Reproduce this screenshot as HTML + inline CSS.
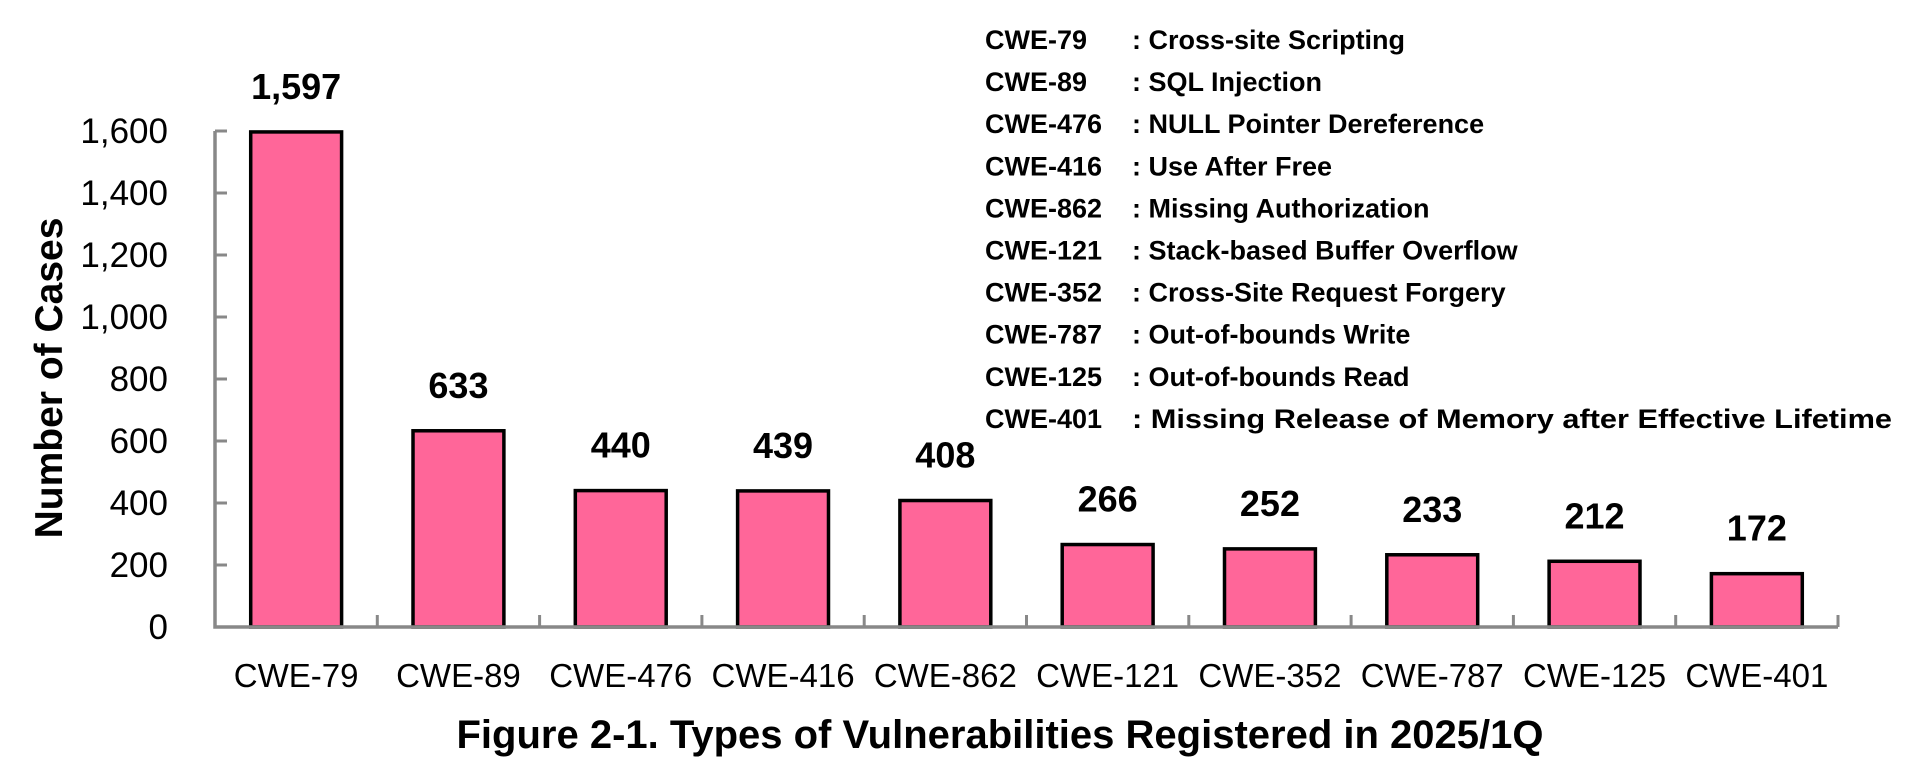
<!DOCTYPE html>
<html><head><meta charset="utf-8"><style>
body{margin:0;background:#fff;}
svg{display:block;font-family:"Liberation Sans",sans-serif;}
</style></head><body>
<svg id="chart" width="1912" height="773" viewBox="0 0 1912 773" xmlns="http://www.w3.org/2000/svg">
<g id="legend"></g>
<g id="plot"></g>
<text transform="translate(62,378) rotate(-90)" text-anchor="middle" font-size="39" font-weight="bold">Number of Cases</text>
<text x="1000" y="748" text-anchor="middle" font-size="40" font-weight="bold">Figure 2-1. Types of Vulnerabilities Registered in 2025/1Q</text>
</svg>
<script>
const categories = ["CWE-79","CWE-89","CWE-476","CWE-416","CWE-862","CWE-121","CWE-352","CWE-787","CWE-125","CWE-401"];
const values = [1597,633,440,439,408,266,252,233,212,172];
const valueLabels = ["1,597","633","440","439","408","266","252","233","212","172"];
const yTicks = [0,200,400,600,800,1000,1200,1400,1600];
const yTickLabels = ["0","200","400","600","800","1,000","1,200","1,400","1,600"];
const legendCodes = ["CWE-79","CWE-89","CWE-476","CWE-416","CWE-862","CWE-121","CWE-352","CWE-787","CWE-125","CWE-401"];
const legendNames = ["Cross-site Scripting","SQL Injection","NULL Pointer Dereference","Use After Free","Missing Authorization","Stack-based Buffer Overflow","Cross-Site Request Forgery","Out-of-bounds Write","Out-of-bounds Read","Missing Release of Memory after Effective Lifetime"];

const NS="http://www.w3.org/2000/svg";
const x0=215,x1=1838,y0=627,yTop=131,yMax=1600;
const bw=(x1-x0)/categories.length;
const Y=v=>y0-(v/yMax)*(y0-yTop);
const plot=document.getElementById('plot');
function mk(tag,attrs,parent,text){const e=document.createElementNS(NS,tag);for(const k in attrs)e.setAttribute(k,attrs[k]);if(text!==undefined)e.textContent=text;parent.appendChild(e);return e;}

categories.forEach((c,i)=>{
  const cx=x0+bw*(i+0.5), w=bw*0.56;
  const r=mk('rect',{x:cx-w/2,y:Y(values[i]),width:w,height:y0-Y(values[i]),fill:'#FF6699',stroke:'#000','stroke-width':3.5},plot);
  
  
  const t=mk('text',{x:cx,y:Y(values[i])-33,'text-anchor':'middle','font-size':36,'font-weight':'bold'},plot,valueLabels[i]);
  
  
  const xl=mk('text',{x:cx,y:687,'text-anchor':'middle','font-size':33},plot,c);
  
  
});
const ax=mk('path',{d:`M${x0},${yTop} V${y0} H${x1}`,fill:'none',stroke:'#888','stroke-width':3.5},plot);


for(let i=1;i<=categories.length;i++){
  const tx=x0+bw*i;
  const tk=mk('line',{x1:tx,x2:tx,y1:y0,y2:y0-12,stroke:'#888','stroke-width':3},plot);
  
  
}
yTicks.forEach((v,i)=>{
  const tk=mk('line',{x1:x0,x2:x0+12,y1:Y(v),y2:Y(v),stroke:'#888','stroke-width':3},plot);
  
  
  const t=mk('text',{x:168,y:Y(v)+12,'text-anchor':'end','font-size':35},plot,yTickLabels[i]);
  
  
});
const lg=document.getElementById('legend');
legendCodes.forEach((c,i)=>{
  const y=49+i*42.1;
  const a=mk('text',{x:985,y:y,'font-size':27,'font-weight':'bold'},lg,c);
  
  
  const b=mk('text',{x:1132,y:y,'font-size':27,'font-weight':'bold'},lg,': '+legendNames[i]);
  if(i===legendCodes.length-1){b.setAttribute('textLength','760');b.setAttribute('lengthAdjust','spacingAndGlyphs');}
  
  
});
</script>
</body></html>
